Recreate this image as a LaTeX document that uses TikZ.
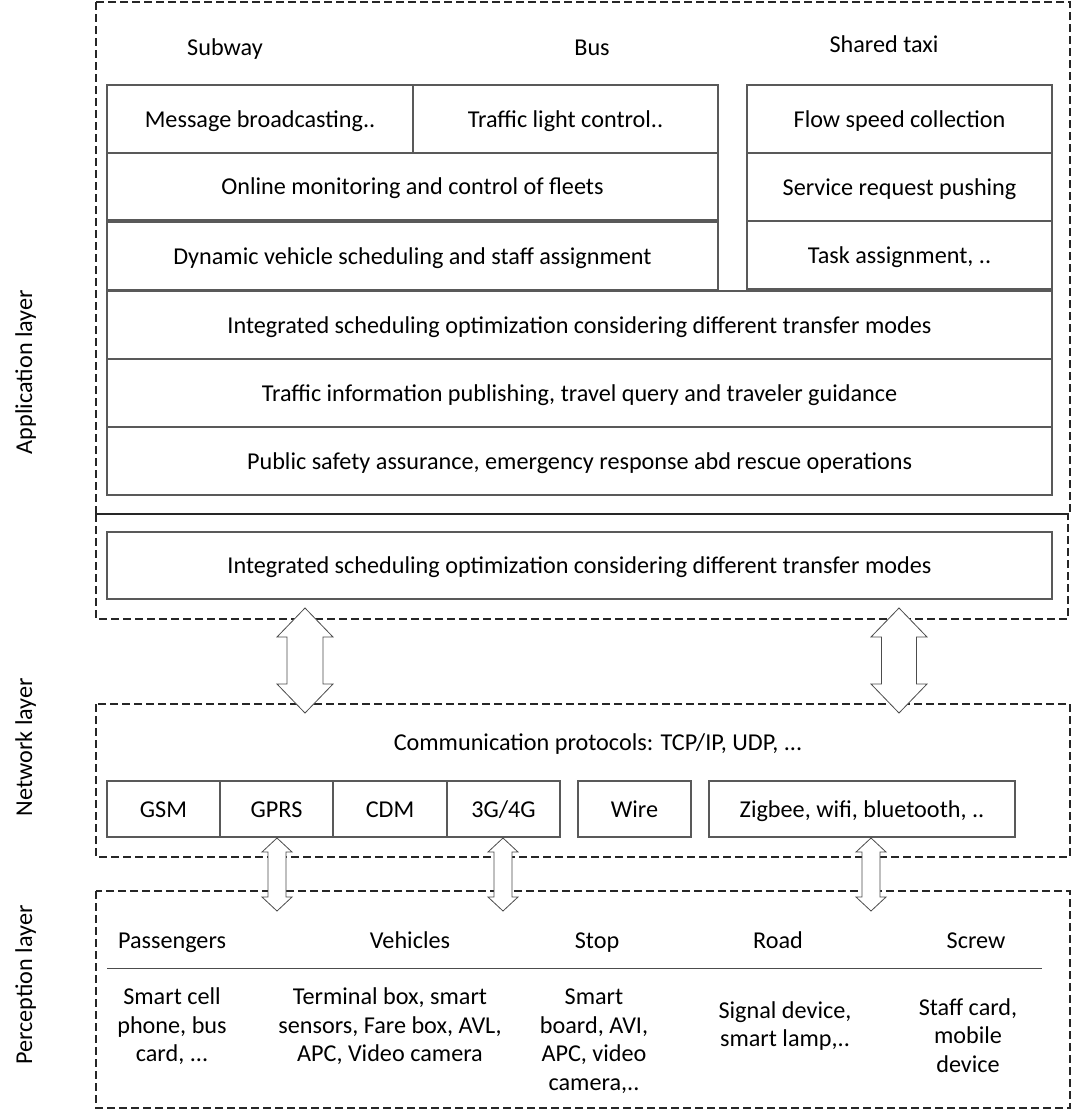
\documentclass[tikz,border=0pt]{standalone}
\usepackage{fontspec}
\setmainfont{Carlito}
\begin{document}
\begin{tikzpicture}[x=1pt,y=-1pt,
  every node/.style={font=\fontsize{24.2}{28.6}\selectfont, inner sep=0pt, align=center},
  oneline/.style={text height=21pt, text depth=5pt},
  layerbox/.style={draw=black!85, line width=1.2pt, dash pattern=on 8pt off 4pt},
  cellbox/.style={oneline, draw=black!65, line width=1.1pt, fill=white},
  hollowarrow/.style={draw=black!70, line width=0.8pt, fill=white, line join=miter}
]
\useasboundingbox (0,0) rectangle (1071,1111);

% layer frames
\draw[layerbox] (96,2) rectangle (1070,514);
\draw[layerbox] (96,514) rectangle (1068,619);
\draw[layerbox] (96,704) rectangle (1070,857);
\draw[layerbox] (96,891) rectangle (1070,1108);

% layer labels
\node[oneline, rotate=90] (lapp) at (24,372) {Application layer};
\node[oneline, rotate=90] (lnet) at (24,747) {Network layer};
\node[oneline, rotate=90] (lper) at (24,985) {Perception layer};

% application headers
\node[oneline] (hsub) at (225,47) {Subway};
\node[oneline] (hbus) at (592,47) {Bus};
\node[oneline] (htaxi) at (884,44) {Shared taxi};

% application cells
\node[cellbox, minimum width=306, minimum height=68] (msg) at (260,119) {Message broadcasting..};
\node[cellbox, minimum width=305, minimum height=68] (tlc) at (565.5,119) {Traffic light control..};
\node[cellbox, minimum width=611, minimum height=67] (onl) at (412.5,186.5) {Online monitoring and control of fleets};
\node[cellbox, minimum width=611, minimum height=68] (dyn) at (412.5,256) {Dynamic vehicle scheduling and staff assignment};
\node[cellbox, minimum width=305, minimum height=68] (flow) at (899.5,119) {Flow speed collection};
\node[cellbox, minimum width=305, minimum height=68] (serv) at (899.5,187) {Service request pushing};
\node[cellbox, minimum width=305, minimum height=68] (task) at (899.5,255) {Task assignment, ..};
\node[cellbox, minimum width=945, minimum height=68] (integ) at (579.5,325) {Integrated scheduling optimization considering different transfer modes};
\node[cellbox, minimum width=945, minimum height=68] (tinfo) at (579.5,393) {Traffic information publishing, travel query and traveler guidance};
\node[cellbox, minimum width=945, minimum height=68] (psafe) at (579.5,461) {Public safety assurance, emergency response abd rescue operations};
\node[cellbox, minimum width=945, minimum height=67] (integ2) at (579.5,565.5) {Integrated scheduling optimization considering different transfer modes};

% network layer
\node[oneline] (proto) at (598,742) {Communication protocols: TCP/IP, UDP, ...};
\node[cellbox, minimum width=113, minimum height=56] (gsm) at (163.5,809) {GSM};
\node[cellbox, minimum width=113, minimum height=56] (gprs) at (276.5,809) {GPRS};
\node[cellbox, minimum width=114, minimum height=56] (cdm) at (390,809) {CDM};
\node[cellbox, minimum width=113, minimum height=56] (g34) at (503.5,809) {3G/4G};
\node[cellbox, minimum width=113, minimum height=56] (wire) at (634.5,809) {Wire};
\node[cellbox, minimum width=306, minimum height=56] (zig) at (862,809) {Zigbee, wifi, bluetooth, ..};

% perception layer
\node[oneline] (pas) at (172,940) {Passengers};
\node[oneline] (veh) at (410,940) {Vehicles};
\node[oneline] (stop) at (597,940) {Stop};
\node[oneline] (road) at (778,940) {Road};
\node[oneline] (screw) at (976,940) {Screw};
\coordinate (sepL) at (107,968);
\coordinate (sepR) at (1042,968);
\draw[black!70, line width=1pt] (sepL) -- (sepR);
\node (pasd) at (172,1026.5) {Smart cell\\phone, bus\\card, ...};
\node (vehd) at (390,1026.5) {Terminal box, smart\\sensors, Fare box, AVL,\\APC, Video camera};
\node (stopd) at (594,1041) {Smart\\board, AVI,\\APC, video\\camera,..};
\node (roadd) at (785,1026) {Signal device,\\smart lamp,..};
\node (screwd) at (968,1035.5) {Staff card,\\mobile\\device};

% hollow double arrows: centre x, top, bottom, half head, half shaft, head length
\newcommand{\hollowdbl}[6]{%
  \draw[hollowarrow] (#1,#2) -- (#1+#4,#2+#6) -- (#1+#5,#2+#6) -- (#1+#5,#3-#6) -- (#1+#4,#3-#6)
    -- (#1,#3) -- (#1-#4,#3-#6) -- (#1-#5,#3-#6) -- (#1-#5,#2+#6) -- (#1-#4,#2+#6) -- cycle;}
\hollowdbl{305}{608}{713}{28}{18}{29}
\hollowdbl{899}{608}{713}{28}{17.5}{29}
\hollowdbl{277}{838}{911}{15}{9}{14}
\hollowdbl{503}{838}{911}{15}{9}{14}
\hollowdbl{871}{838}{911}{15}{9}{14}
\end{tikzpicture}
\end{document}
